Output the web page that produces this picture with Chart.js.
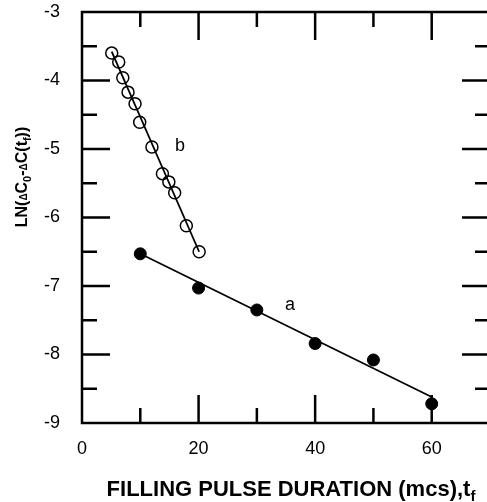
<!DOCTYPE html>
<html><head><meta charset="utf-8">
<script src="https://cdn.jsdelivr.net/npm/chart.js@4"></script>
<style>html,body{margin:0;padding:0;overflow:hidden;background:#fff}#wrap{width:500px;height:502px;position:relative}</style>
</head><body><div id="wrap"><canvas id="c"></canvas></div>
<script>
// ---- data ----
const seriesA_x = [10, 20, 30, 40, 50, 60];
const seriesA_y = [-6.53, -7.03, -7.35, -7.84, -8.08, -8.72];
const seriesB_x = [5.1, 6.3, 7.0, 7.9, 9.1, 9.9, 12.0, 13.8, 14.9, 15.9, 17.9, 20.1];
const seriesB_y = [-3.60, -3.73, -3.96, -4.17, -4.34, -4.61, -4.97, -5.36, -5.48, -5.64, -6.12, -6.50];
const fitA_x = [10, 60];
const fitA_y = [-6.53, -8.62];
const fitB_x = [5.1, 20.1];
const fitB_y = [-3.58, -6.50];
const xTickLabels = [0, 20, 40, 60];
const yTickLabels = [-3, -4, -5, -6, -7, -8, -9];
const seriesNames = ['a', 'b'];
const seriesNamePos_x = [35.7, 16.8];
const seriesNamePos_y = [-7.28, -4.96];

const pts = (xs, ys) => xs.map((x, i) => ({x, y: ys[i]}));
const FONT = "'Liberation Sans', Arial, sans-serif";
Chart.defaults.font.family = FONT;
Chart.defaults.color = '#000';

function drawRich(ctx, parts, x, y) {
  let total = 0;
  parts.forEach(p => { ctx.font = (p[2] ? 'bold ' : '') + p[1] + 'px ' + FONT; total += ctx.measureText(p[0]).width; });
  let cx = x - total / 2;
  ctx.textAlign = 'left'; ctx.textBaseline = 'alphabetic';
  parts.forEach(p => {
    ctx.font = (p[2] ? 'bold ' : '') + p[1] + 'px ' + FONT;
    ctx.fillText(p[0], cx, y + (p[3] || 0));
    cx += ctx.measureText(p[0]).width;
  });
}

const decor = {
  id: 'decor',
  afterDraw(chart) {
    const {ctx, chartArea: a, scales: {x, y}} = chart;
    ctx.save();
    ctx.strokeStyle = '#000'; ctx.fillStyle = '#000';
    ctx.lineWidth = 2.5;
    ctx.strokeRect(a.left, a.top, a.right - a.left, a.bottom - a.top);
    ctx.beginPath();
    for (let v = -8.5; v <= -3.001; v += 0.5) {
      const py = y.getPixelForValue(v);
      const len = Number.isInteger(v) ? 28 : 15;
      ctx.moveTo(a.left, py); ctx.lineTo(a.left + len, py);
      ctx.moveTo(a.right, py); ctx.lineTo(a.right - len, py);
    }
    for (let v = 10; v <= 60; v += 10) {
      const px = x.getPixelForValue(v);
      const len = (v % 20 === 0) ? 28 : 15;
      ctx.moveTo(px, a.bottom); ctx.lineTo(px, a.bottom - len);
      ctx.moveTo(px, a.top); ctx.lineTo(px, a.top + len);
    }
    ctx.stroke();
    ctx.font = '18px ' + FONT;
    ctx.textAlign = 'center'; ctx.textBaseline = 'middle';
    seriesNames.forEach((n, i) => ctx.fillText(n, x.getPixelForValue(seriesNamePos_x[i]), y.getPixelForValue(seriesNamePos_y[i])));
    drawRich(ctx, [['FILLING PULSE DURATION (mcs),t', 22, true, 0], ['f', 15, true, 5]], 291, 496);
    ctx.translate(21, 177);
    ctx.rotate(-Math.PI / 2);
    drawRich(ctx, [['LN(', 16, true, 0], ['\u0394', 10, true, 0], ['C', 16, true, 0], ['0', 11, true, 4],
      ['-', 16, true, 0], ['\u0394', 10, true, 0], ['C(t', 16, true, 0], ['f', 11, true, 4], ['))', 16, true, 0]], 0, 6);
    ctx.restore();
  }
};

new Chart(document.getElementById('c'), {
  type: 'scatter',
  data: {
    datasets: [
      {data: pts(fitA_x, fitA_y), showLine: true, borderColor: '#000', borderWidth: 1.8, pointRadius: 0},
      {data: pts(fitB_x, fitB_y), showLine: true, borderColor: '#000', borderWidth: 1.8, pointRadius: 0},
      {data: pts(seriesA_x, seriesA_y), pointRadius: 6, pointBackgroundColor: '#000', pointBorderColor: '#000', pointBorderWidth: 1},
      {data: pts(seriesB_x, seriesB_y), pointRadius: 6, pointBackgroundColor: 'rgba(0,0,0,0)', pointBorderColor: '#000', pointBorderWidth: 1.5}
    ]
  },
  options: {
    responsive: true, maintainAspectRatio: false, animation: false,
    layout: {padding: {top: 12, right: 10, left: 0, bottom: 0}},
    plugins: {legend: {display: false}, tooltip: {enabled: false}},
    scales: {
      x: {
        type: 'linear', position: 'bottom', min: 0, max: 70,
        grid: {display: false, drawTicks: false}, border: {display: false},
        ticks: {stepSize: 10, autoSkip: false, maxRotation: 0, padding: 15, font: {size: 18},
          callback: v => xTickLabels.includes(v) ? String(v) : ''},
        afterFit: s => { s.height = 79; s.paddingLeft = 0; s.paddingRight = 0; }
      },
      y: {
        min: -9, max: -3,
        grid: {display: false, drawTicks: false}, border: {display: false},
        ticks: {stepSize: 1, autoSkip: false, padding: 22, font: {size: 18},
          callback: v => yTickLabels.includes(v) ? String(v) : ''},
        afterFit: s => { s.width = 82; s.paddingTop = 0; s.paddingBottom = 0; }
      }
    }
  },
  plugins: [decor]
});
</script>
</body></html>
